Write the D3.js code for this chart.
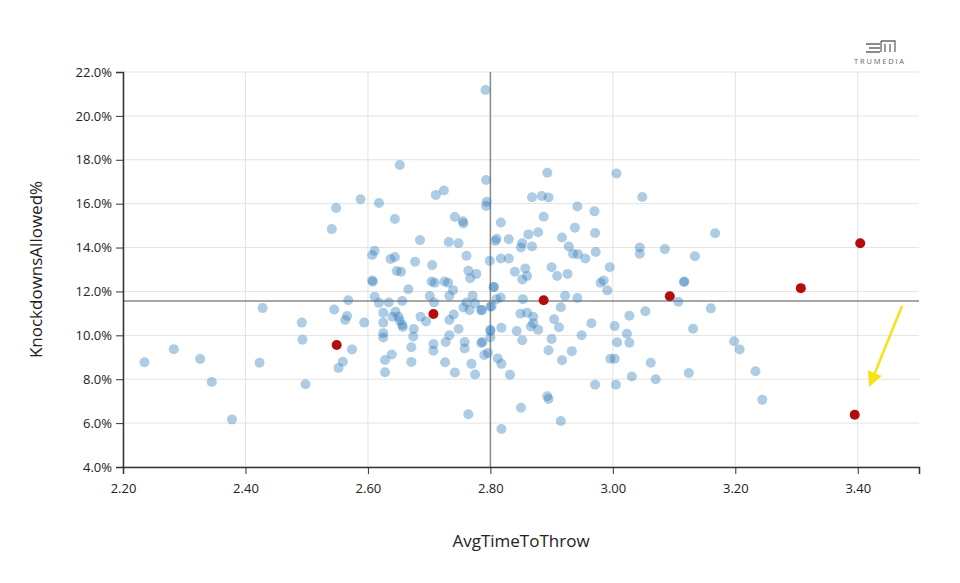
<!DOCTYPE html>
<html lang="en">
<head>
<meta charset="utf-8">
<script src="https://d3js.org/d3.v7.min.js"></script>
<style>
  body { margin: 0; background: #fff; font-family: 'Open Sans', sans-serif; }
  .tick text { font-size: 13px; fill: #222; font-family: 'Open Sans', sans-serif; }
  .grid line { stroke: #e3e3e3; }
</style>
</head>
<body>
<svg id="chart" width="960" height="583"></svg>
<script>
// avg time to throw
var timeVals = [2.235,2.283,2.326,2.345,2.378,2.423,2.428,2.492,2.493,2.498,2.541,2.548,2.545,2.552,2.559,2.566,2.563,2.568,2.574,2.588,2.594,
  2.607,2.607,2.608,2.611,2.611,2.618,2.618,2.625,2.625,2.625,2.625,2.628,2.628,2.634,2.637,2.639,2.640,2.644,2.644,2.645,2.647,2.650,2.652,2.652,2.654,2.656,2.656,2.657,2.666,
  2.671,2.671,2.674,2.675,2.677,2.685,2.686,2.695,2.701,2.704,2.705,2.707,2.707,2.708,2.709,2.711,2.724,2.725,2.726,2.727,2.731,2.732,2.733,2.733,2.733,2.739,2.740,2.742,2.742,2.748,
  2.748,2.755,2.756,2.756,2.758,2.758,2.761,2.761,2.764,2.764,2.766,2.767,2.769,2.771,2.775,2.775,2.777,2.785,2.785,2.786,2.787,2.790,2.792,2.793,2.793,2.794,2.796,2.799,2.800,2.800,
  2.800,2.800,2.802,2.805,2.806,2.808,2.810,2.810,2.812,2.817,2.817,2.817,2.818,2.818,2.818,2.830,2.830,2.832,2.840,2.843,2.849,2.850,2.850,2.852,2.852,2.852,2.853,2.857,2.860,2.860,
  2.862,2.866,2.868,2.868,2.870,2.870,2.878,2.878,2.884,2.887,2.893,2.893,2.895,2.895,2.895,2.900,2.900,2.904,2.909,2.912,2.915,2.915,2.917,2.917,2.922,2.926,2.928,2.933,2.935,2.938,
  2.942,2.942,2.943,2.949,2.955,2.965,2.970,2.971,2.971,2.972,2.980,2.985,2.991,2.995,2.996,3.003,3.003,3.005,3.006,3.007,3.023,3.027,3.027,3.031,3.044,3.044,3.048,3.053,3.062,3.070,
  3.085,3.107,3.116,3.117,3.124,3.131,3.134,3.160,3.167,3.198,3.207,3.233,3.244];
// knockdowns allowed %
var kdVals = [8.77,9.37,8.92,7.87,6.17,8.75,11.24,10.58,9.80,7.77,14.84,15.80,11.18,8.51,8.80,10.88,10.70,11.60,9.36,16.20,10.58,
  12.50,13.66,12.44,13.85,11.76,16.03,11.48,11.03,10.58,10.10,9.90,8.88,8.32,11.50,13.48,9.13,10.85,15.30,13.57,11.07,12.93,10.85,17.76,10.67,12.90,11.57,10.48,10.38,12.10,
  9.46,8.79,9.95,10.29,13.35,14.34,10.85,10.63,11.79,12.45,13.20,9.60,9.30,11.50,12.40,16.40,16.60,12.45,8.77,9.70,12.40,14.25,11.80,10.70,10.00,12.06,10.95,15.39,8.31,14.20,
  10.29,15.20,15.10,11.27,9.70,9.40,13.63,11.50,12.94,6.40,11.15,12.60,8.70,11.80,11.45,8.22,12.80,11.15,9.65,11.15,9.70,9.10,21.18,17.08,15.90,16.09,9.20,13.40,11.30,10.25,
  9.90,10.20,11.33,12.20,12.20,14.30,11.65,14.40,8.95,11.72,15.14,13.50,10.35,8.70,5.73,14.38,13.50,8.20,12.90,10.20,10.98,14.00,6.70,12.55,9.78,14.20,11.65,13.05,11.03,12.70,
  14.60,10.40,16.29,14.05,10.85,10.55,10.26,14.70,16.35,15.40,17.41,7.22,16.28,7.10,9.32,9.83,13.10,10.73,12.70,10.37,11.28,6.10,14.46,8.87,11.80,12.80,14.05,9.28,13.72,14.90,
  11.70,15.87,13.70,10.00,13.50,10.55,15.65,14.66,7.75,13.80,12.40,12.50,12.05,13.10,8.93,10.42,8.93,7.75,17.38,9.68,10.07,10.89,9.66,8.12,14.00,13.72,16.30,11.10,8.75,8.00,
  13.93,11.53,12.43,12.45,8.28,10.30,13.60,11.23,14.65,9.73,9.36,8.36,7.06];
// highlighted players
var redTime = [2.549,2.707,2.887,3.093,3.307,3.404,3.395];
var redKd = [9.56,10.97,11.60,11.78,12.15,14.20,6.38];
var xTicks = [2.2,2.4,2.6,2.8,3.0,3.2,3.4];
var yTicks = [4,6,8,10,12,14,16,18,20,22];
var avgTime = 2.80, avgKd = 11.56;

var svg = d3.select("#chart");
var x = d3.scaleLinear().domain([2.2, 3.5]).range([123, 919]);
var y = d3.scaleLinear().domain([4, 22]).range([467, 72]);

// grid
svg.append("g").attr("class", "grid")
  .selectAll("line").data(yTicks).enter().append("line")
  .attr("x1", x(2.2)).attr("x2", x(3.5))
  .attr("y1", function (d) { return y(d); }).attr("y2", function (d) { return y(d); });
svg.append("g").attr("class", "grid")
  .selectAll("line").data(xTicks).enter().append("line")
  .attr("y1", y(4)).attr("y2", y(22))
  .attr("x1", function (d) { return x(d); }).attr("x2", function (d) { return x(d); });

// average lines
svg.append("line").attr("x1", x(avgTime)).attr("x2", x(avgTime)).attr("y1", y(4)).attr("y2", y(22))
  .attr("stroke", "#8a8a8a").attr("stroke-width", 1.5);
svg.append("line").attr("x1", x(2.2)).attr("x2", x(3.5)).attr("y1", y(avgKd)).attr("y2", y(avgKd))
  .attr("stroke", "#8a8a8a").attr("stroke-width", 1.5);

// axes
svg.append("g").attr("transform", "translate(0," + y(4) + ")")
  .call(d3.axisBottom(x).tickValues(xTicks).tickFormat(d3.format(".2f")).tickSizeOuter(0).tickSize(7).tickPadding(10));
svg.append("g").attr("transform", "translate(" + x(2.2) + ",0)")
  .call(d3.axisLeft(y).tickValues(yTicks).tickFormat(function (d) { return d3.format(".1f")(d) + "%"; }).tickSizeOuter(0).tickSize(7).tickPadding(4));
svg.selectAll(".domain").attr("stroke", "#333").attr("stroke-width", 1.5);
svg.selectAll(".tick line").attr("stroke", "#333");

// points
var pts = timeVals.map(function (t, i) { return { t: t, k: kdVals[i] }; });
svg.append("g").selectAll("circle").data(pts).enter().append("circle")
  .attr("cx", function (d) { return x(d.t); })
  .attr("cy", function (d) { return y(d.k); })
  .attr("r", 5)
  .attr("fill", "#2a7ab8").attr("fill-opacity", 0.38);
var reds = redTime.map(function (t, i) { return { t: t, k: redKd[i] }; });
svg.append("g").selectAll("circle").data(reds).enter().append("circle")
  .attr("cx", function (d) { return x(d.t); })
  .attr("cy", function (d) { return y(d.k); })
  .attr("r", 5)
  .attr("fill", "#b50d0d");

// labels
svg.append("text").attr("x", x(2.85)).attr("y", 547).attr("text-anchor", "middle")
  .style("font-size", "17px").style("fill", "#222").text("AvgTimeToThrow");
svg.append("text").attr("transform", "translate(42," + y(13) + ") rotate(-90)").attr("text-anchor", "middle")
  .style("font-size", "17px").style("fill", "#222").text("KnockdownsAllowed%");

// arrow annotation
svg.append("defs").append("marker").attr("id", "ah").attr("viewBox", "0 0 10 10")
  .attr("refX", 5).attr("refY", 5).attr("markerWidth", 6).attr("markerHeight", 6).attr("orient", "auto")
  .append("path").attr("d", "M0,0L10,5L0,10z").attr("fill", "#f5e313");
svg.append("line").attr("x1", 902).attr("y1", 306).attr("x2", 872).attr("y2", 380)
  .attr("stroke", "#f5e313").attr("stroke-width", 2.5).attr("marker-end", "url(#ah)");

// logo
var logo = svg.append("g").attr("transform", "translate(866,40)").attr("stroke", "#666").attr("fill", "none").attr("stroke-width", 1.3);
logo.append("path").attr("d", "M0,4H14M3,8H14M0,12H14M15,1V12M15,1H29V12M19,4V12M24,4V12");
svg.append("text").attr("x", 880).attr("y", 64).attr("text-anchor", "middle")
  .style("font-size", "7.5px").style("letter-spacing", "1.8px").style("fill", "#666").text("TRUMEDIA");
</script>
</body>
</html>
